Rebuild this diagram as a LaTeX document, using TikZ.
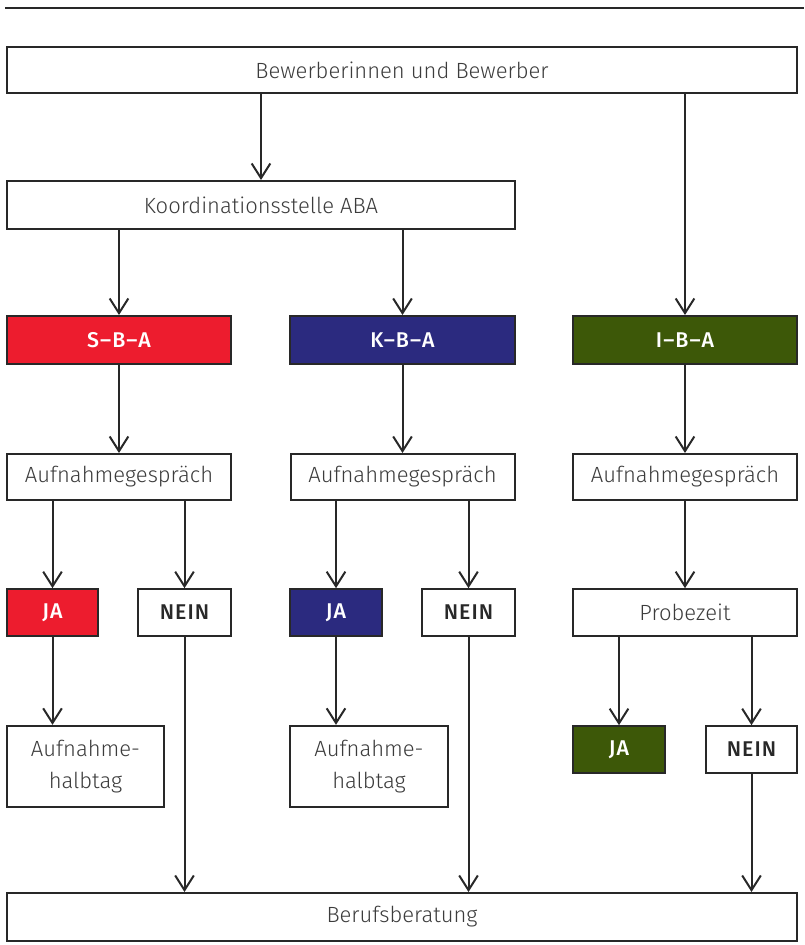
\documentclass[tikz,border=0pt]{standalone}
\usepackage{fontspec}
\setmainfont{Fira Sans}[UprightFont=* Light, BoldFont=* Medium, BoldFeatures={LetterSpace=5}]
\usetikzlibrary{arrows.meta}

\definecolor{sbared}{RGB}{237,28,46}
\definecolor{kbablue}{RGB}{43,42,127}
\definecolor{ibagreen}{RGB}{61,88,8}
\definecolor{linegray}{RGB}{40,40,40}
\definecolor{textgray}{RGB}{60,60,60}

\tikzset{
	box/.style={draw=linegray, line width=1.5pt, fill=white, text=textgray,
		font=\fontsize{16.5}{24}\selectfont, inner sep=0pt, align=center},
	colbox/.style={box, fill=#1, text=white, font=\fontsize{16}{20}\selectfont\bfseries},
	nobox/.style={box, text=linegray, font=\fontsize{16}{20}\selectfont\bfseries},
	flow/.style={draw=linegray, line width=1.5pt, -{Straight Barb[length=11pt, width=14pt, line width=1.5pt]}}
}

\begin{document}
\begin{tikzpicture}[x=0.75pt, y=-0.75pt]
	\useasboundingbox (0,0) rectangle (804,945);

	\draw
		[draw=linegray, line width=1.5pt] (5,8) -- (804,8);

	% Zeile 1 und 2
	\node (bew) at (402,70) [box, minimum width=592pt, minimum height=34.5pt] {Bewerberinnen und Bewerber};
	\node (koord) at (261,205) [box, minimum width=381pt, minimum height=36pt] {Koordinationsstelle ABA};

	% Zentren
	\node (sba) at (119,340) [colbox=sbared, minimum width=168pt, minimum height=36pt] {S--B--A};
	\node (kba) at (402.5,340) [colbox=kbablue, minimum width=168.75pt, minimum height=36pt] {K--B--A};
	\node (iba) at (685,340) [colbox=ibagreen, minimum width=168pt, minimum height=36pt] {I--B--A};

	\foreach \name/\x in {aufs/119, aufk/402.5, aufi/685}
		\node (\name) at (\x,477) [box, minimum width=168pt, minimum height=34.5pt] {Aufnahmegespräch};

	% Entscheidungen
	\node (jas) at (52.5,612.5) [colbox=sbared, minimum width=68pt, minimum height=35pt] {JA};
	\node (neins) at (184.5,612.5) [nobox, minimum width=70pt, minimum height=35pt] {NEIN};
	\node (jak) at (336,612.5) [colbox=kbablue, minimum width=69pt, minimum height=35pt] {JA};
	\node (neink) at (468.5,612.5) [nobox, minimum width=70pt, minimum height=35pt] {NEIN};
	\node (probe) at (685,612.5) [box, minimum width=168pt, minimum height=35pt] {Probezeit};

	\node (halbs) at (85.5,766.5) [box, minimum width=118pt, minimum height=61pt] {Aufnahme-\\halbtag};
	\node (halbk) at (369,766.5) [box, minimum width=118pt, minimum height=61pt] {Aufnahme-\\halbtag};
	\node (jai) at (619,749.5) [colbox=ibagreen, minimum width=69pt, minimum height=35pt] {JA};
	\node (neini) at (751.5,749.5) [nobox, minimum width=68pt, minimum height=35pt] {NEIN};

	\node (beruf) at (402,917) [box, minimum width=592pt, minimum height=36pt] {Berufsberatung};

	% Pfeile
	\draw [flow] (bew.south -| koord.north) -- (koord.north);
	\draw [flow] (bew.south -| iba.north) -- (iba.north);
	\draw [flow] (koord.south -| sba.north) -- (sba.north);
	\draw [flow] (koord.south -| kba.north) -- (kba.north);

	\foreach \from/\to in {sba/aufs, kba/aufk, iba/aufi, aufi/probe}
		\draw [flow] (\from) -- (\to);

	\foreach \from/\to in {aufs/jas, aufs/neins, aufk/jak, aufk/neink, probe/jai, probe/neini}
		\draw [flow] (\from.south -| \to.north) -- (\to.north);

	\draw [flow] (jas.south) -- (jas.south |- halbs.north);
	\draw [flow] (jak.south) -- (jak.south |- halbk.north);

	\foreach \from in {neins, neink, neini}
		\draw [flow] (\from.south) -- (\from.south |- beruf.north);
\end{tikzpicture}
\end{document}
